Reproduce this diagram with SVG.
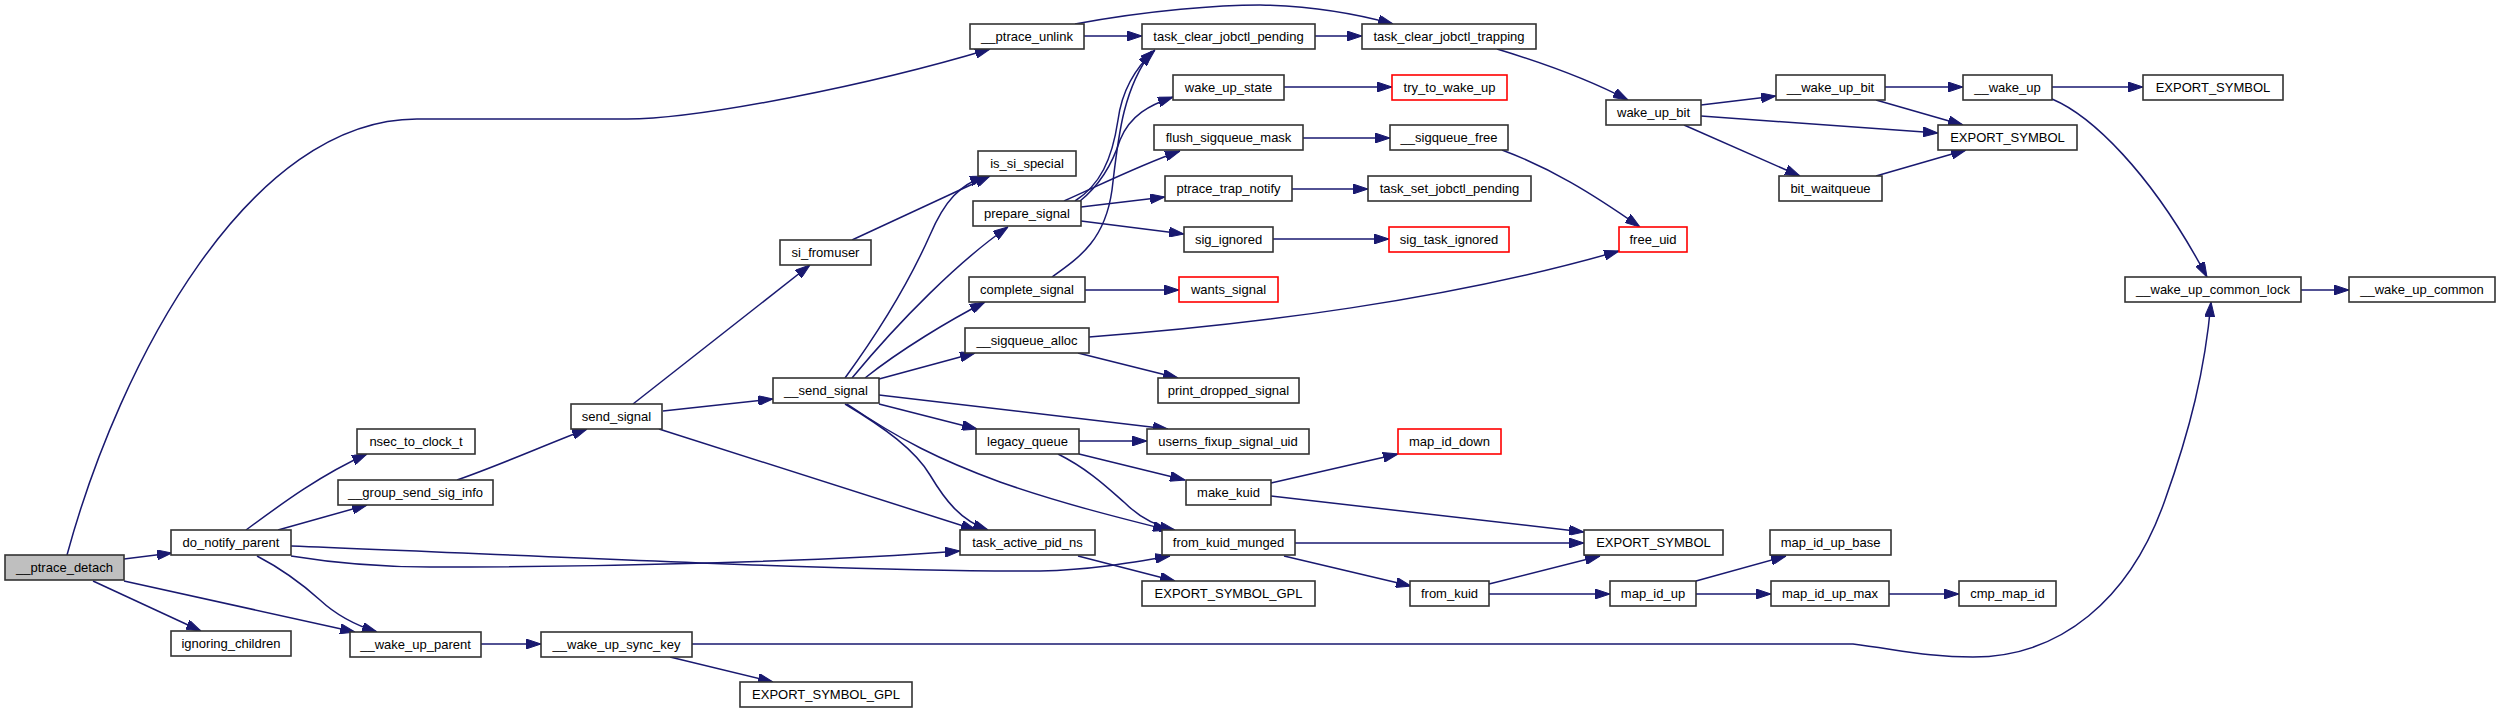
<svg xmlns="http://www.w3.org/2000/svg" width="2500" height="714" viewBox="0 0 2500 714">
<style>
.n rect{fill:#fff;stroke:#333;stroke-width:1.6}
.n.r rect{stroke:#ff0000}
.n.m rect{fill:#bfbfbf}
.n text{font-family:"Liberation Sans",Arial,sans-serif;font-size:13px;fill:#000;text-anchor:middle}
.e path{fill:none;stroke:#191970;stroke-width:1.5;marker-end:url(#a)}
</style>
<defs>
<marker id="a" markerUnits="userSpaceOnUse" markerWidth="15" markerHeight="10" viewBox="0 0 15 10" refX="15" refY="5" orient="auto">
<path d="M0,0 L15,5 L0,10 z" fill="#191970" stroke="#191970" stroke-width="1"/>
</marker>
</defs>
<rect width="2500" height="714" fill="#fff"/>
<g id="connectors" class="e">
<path d="M67,555 C120,360 250,119 417,119 L627,119 C700,119 870,85 990,49"/>
<path d="M124,559 L172,553"/>
<path d="M93,581 L201,631"/>
<path d="M124,581 L355,632"/>
<path d="M246,530 C280,505 320,475 367,454"/>
<path d="M278,530 L367,505"/>
<path d="M257,556 C280,568 300,582 320,600 C335,614 355,625 377,632"/>
<path d="M291,546 C550,556 850,572 1040,571 C1090,570 1130,563 1170,556"/>
<path d="M291,556 C340,564 380,567 430,567 C620,567 830,561 960,551"/>
<path d="M457,480 C500,465 545,445 587,429"/>
<path d="M663,411 L773,399"/>
<path d="M633,404 L810,265"/>
<path d="M659,429 L976,530"/>
<path d="M852,240 L990,176"/>
<path d="M845,378 C880,330 910,280 930,235 C945,200 960,185 985,176"/>
<path d="M852,378 C900,320 960,260 1008,227"/>
<path d="M865,378 C900,350 950,320 985,302"/>
<path d="M879,379 L975,353"/>
<path d="M879,395 L1168,429"/>
<path d="M879,404 L977,429"/>
<path d="M845,404 C885,428 915,450 930,475 C945,500 960,520 988,530"/>
<path d="M847,404 C900,440 940,460 1000,482 C1060,503 1120,518 1168,530"/>
<path d="M1075,201 C1100,185 1112,160 1118,120 C1122,90 1135,68 1155,50"/>
<path d="M1052,277 C1080,257 1105,240 1112,190 C1118,140 1122,90 1152,51"/>
<path d="M1080,201 C1100,185 1112,165 1120,140 C1130,115 1150,105 1173,97"/>
<path d="M1064,201 C1100,185 1140,165 1180,151"/>
<path d="M1081,207 L1165,197"/>
<path d="M1081,221 L1184,234"/>
<path d="M1085,290 L1179,290"/>
<path d="M1089,337 C1250,325 1450,300 1619,251"/>
<path d="M1078,353 L1178,378"/>
<path d="M1079,441 L1147,441"/>
<path d="M1079,454 L1185,480"/>
<path d="M1058,454 C1090,470 1110,490 1125,503 C1140,518 1155,526 1175,530"/>
<path d="M1078,556 L1175,581"/>
<path d="M1271,483 L1398,454"/>
<path d="M1271,496 L1584,532"/>
<path d="M1295,543 L1584,543"/>
<path d="M1284,556 L1411,586"/>
<path d="M1489,584 L1600,556"/>
<path d="M1489,594 L1610,594"/>
<path d="M1696,581 L1786,556"/>
<path d="M1696,594 L1771,594"/>
<path d="M1889,594 L1959,594"/>
<path d="M481,644 L541,644"/>
<path d="M670,657 L773,682"/>
<path d="M692,644 L1853,644 C1900,650 1930,657 1973,657 C2060,657 2130,600 2165,500 C2190,430 2205,370 2211,302"/>
<path d="M1084,36 L1142,36"/>
<path d="M1075,24 C1150,10 1220,5 1260,5 C1310,6 1350,12 1393,24"/>
<path d="M1315,36 L1362,36"/>
<path d="M1497,49 C1540,62 1590,80 1628,100"/>
<path d="M1284,87 L1392,87"/>
<path d="M1303,138 L1390,138"/>
<path d="M1502,150 C1550,168 1590,192 1640,227"/>
<path d="M1292,189 L1368,189"/>
<path d="M1273,239 L1389,239"/>
<path d="M1701,105 L1776,96"/>
<path d="M1701,116 L1938,133"/>
<path d="M1684,125 L1800,176"/>
<path d="M1885,87 L1963,87"/>
<path d="M1876,100 L1963,125"/>
<path d="M1876,176 L1966,150"/>
<path d="M2052,87 L2143,87"/>
<path d="M2052,99 C2090,115 2150,170 2207,277"/>
<path d="M2301,290 L2349,290"/>
</g>
<g id="n0" class="n m"><rect x="5" y="555" width="119" height="25"/><text x="64.5" y="572">__ptrace_detach</text></g>
<g id="n1" class="n"><rect x="171" y="530" width="120" height="25"/><text x="231" y="547">do_notify_parent</text></g>
<g id="n2" class="n"><rect x="171" y="631" width="120" height="25"/><text x="231" y="648">ignoring_children</text></g>
<g id="n3" class="n"><rect x="357" y="429" width="118" height="25"/><text x="416" y="446">nsec_to_clock_t</text></g>
<g id="n4" class="n"><rect x="338" y="480" width="155" height="25"/><text x="415.5" y="497">__group_send_sig_info</text></g>
<g id="n5" class="n"><rect x="350" y="632" width="131" height="25"/><text x="415.5" y="649">__wake_up_parent</text></g>
<g id="n6" class="n"><rect x="571" y="404" width="91" height="25"/><text x="616.5" y="421">send_signal</text></g>
<g id="n7" class="n"><rect x="541" y="632" width="151" height="25"/><text x="616.5" y="649">__wake_up_sync_key</text></g>
<g id="n8" class="n"><rect x="740" y="682" width="172" height="25"/><text x="826" y="699">EXPORT_SYMBOL_GPL</text></g>
<g id="n9" class="n"><rect x="773" y="378" width="106" height="25"/><text x="826" y="395">__send_signal</text></g>
<g id="n10" class="n"><rect x="780" y="240" width="91" height="25"/><text x="825.5" y="257">si_fromuser</text></g>
<g id="n11" class="n"><rect x="970" y="24" width="114" height="25"/><text x="1027" y="41">__ptrace_unlink</text></g>
<g id="n12" class="n"><rect x="978" y="151" width="98" height="25"/><text x="1027" y="168">is_si_special</text></g>
<g id="n13" class="n"><rect x="973" y="201" width="108" height="25"/><text x="1027" y="218">prepare_signal</text></g>
<g id="n14" class="n"><rect x="969" y="277" width="116" height="25"/><text x="1027" y="294">complete_signal</text></g>
<g id="n15" class="n"><rect x="965" y="328" width="124" height="25"/><text x="1027" y="345">__sigqueue_alloc</text></g>
<g id="n16" class="n"><rect x="976" y="429" width="103" height="25"/><text x="1027.5" y="446">legacy_queue</text></g>
<g id="n17" class="n"><rect x="960" y="530" width="135" height="25"/><text x="1027.5" y="547">task_active_pid_ns</text></g>
<g id="n18" class="n"><rect x="1142" y="24" width="173" height="25"/><text x="1228.5" y="41">task_clear_jobctl_pending</text></g>
<g id="n19" class="n"><rect x="1173" y="75" width="111" height="25"/><text x="1228.5" y="92">wake_up_state</text></g>
<g id="n20" class="n"><rect x="1154" y="125" width="149" height="25"/><text x="1228.5" y="142">flush_sigqueue_mask</text></g>
<g id="n21" class="n"><rect x="1165" y="176" width="127" height="25"/><text x="1228.5" y="193">ptrace_trap_notify</text></g>
<g id="n22" class="n"><rect x="1184" y="227" width="89" height="25"/><text x="1228.5" y="244">sig_ignored</text></g>
<g id="n23" class="n r"><rect x="1179" y="277" width="99" height="25"/><text x="1228.5" y="294">wants_signal</text></g>
<g id="n24" class="n"><rect x="1158" y="378" width="141" height="25"/><text x="1228.5" y="395">print_dropped_signal</text></g>
<g id="n25" class="n"><rect x="1147" y="429" width="162" height="25"/><text x="1228" y="446">userns_fixup_signal_uid</text></g>
<g id="n26" class="n"><rect x="1186" y="480" width="85" height="25"/><text x="1228.5" y="497">make_kuid</text></g>
<g id="n27" class="n"><rect x="1162" y="530" width="133" height="25"/><text x="1228.5" y="547">from_kuid_munged</text></g>
<g id="n28" class="n"><rect x="1142" y="581" width="173" height="25"/><text x="1228.5" y="598">EXPORT_SYMBOL_GPL</text></g>
<g id="n29" class="n"><rect x="1362" y="24" width="174" height="25"/><text x="1449" y="41">task_clear_jobctl_trapping</text></g>
<g id="n30" class="n r"><rect x="1392" y="75" width="115" height="25"/><text x="1449.5" y="92">try_to_wake_up</text></g>
<g id="n31" class="n"><rect x="1390" y="125" width="118" height="25"/><text x="1449" y="142">__sigqueue_free</text></g>
<g id="n32" class="n"><rect x="1368" y="176" width="163" height="25"/><text x="1449.5" y="193">task_set_jobctl_pending</text></g>
<g id="n33" class="n r"><rect x="1389" y="227" width="120" height="25"/><text x="1449" y="244">sig_task_ignored</text></g>
<g id="n34" class="n r"><rect x="1398" y="429" width="103" height="25"/><text x="1449.5" y="446">map_id_down</text></g>
<g id="n35" class="n"><rect x="1410" y="581" width="79" height="25"/><text x="1449.5" y="598">from_kuid</text></g>
<g id="n36" class="n"><rect x="1606" y="100" width="95" height="25"/><text x="1653.5" y="117">wake_up_bit</text></g>
<g id="n37" class="n r"><rect x="1619" y="227" width="68" height="25"/><text x="1653" y="244">free_uid</text></g>
<g id="n38" class="n"><rect x="1584" y="530" width="139" height="25"/><text x="1653.5" y="547">EXPORT_SYMBOL</text></g>
<g id="n39" class="n"><rect x="1610" y="581" width="86" height="25"/><text x="1653" y="598">map_id_up</text></g>
<g id="n40" class="n"><rect x="1776" y="75" width="109" height="25"/><text x="1830.5" y="92">__wake_up_bit</text></g>
<g id="n41" class="n"><rect x="1938" y="125" width="139" height="25"/><text x="2007.5" y="142">EXPORT_SYMBOL</text></g>
<g id="n42" class="n"><rect x="1779" y="176" width="103" height="25"/><text x="1830.5" y="193">bit_waitqueue</text></g>
<g id="n43" class="n"><rect x="1963" y="75" width="89" height="25"/><text x="2007.5" y="92">__wake_up</text></g>
<g id="n44" class="n"><rect x="1770" y="530" width="121" height="25"/><text x="1830.5" y="547">map_id_up_base</text></g>
<g id="n45" class="n"><rect x="1771" y="581" width="118" height="25"/><text x="1830" y="598">map_id_up_max</text></g>
<g id="n46" class="n"><rect x="1959" y="581" width="97" height="25"/><text x="2007.5" y="598">cmp_map_id</text></g>
<g id="n47" class="n"><rect x="2143" y="75" width="140" height="25"/><text x="2213" y="92">EXPORT_SYMBOL</text></g>
<g id="n48" class="n"><rect x="2125" y="277" width="176" height="25"/><text x="2213" y="294">__wake_up_common_lock</text></g>
<g id="n49" class="n"><rect x="2349" y="277" width="146" height="25"/><text x="2422" y="294">__wake_up_common</text></g>
</svg>
